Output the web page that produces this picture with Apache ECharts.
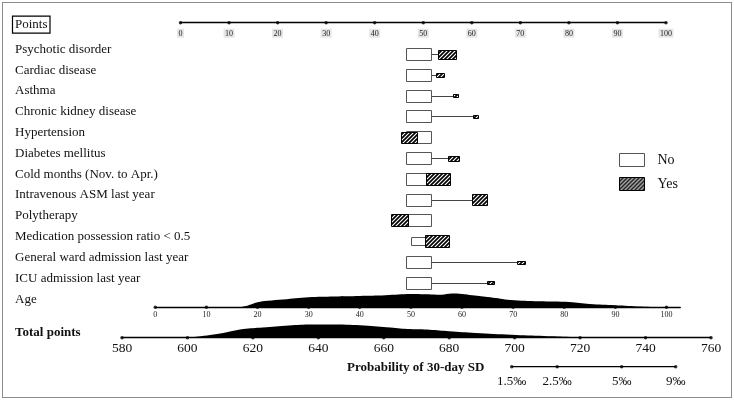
<!DOCTYPE html>
<html><head><meta charset="utf-8">
<script src="https://cdn.jsdelivr.net/npm/echarts@6/dist/echarts.min.js"></script>
<style>
html,body{margin:0;padding:0;background:#fff}
#c{width:734px;height:400px;position:absolute;left:0;top:0}
#frame{position:absolute;left:2px;top:2px;width:728px;height:394px;border:1px solid #8c8c8c;pointer-events:none}
</style>
</head><body><div id="c"></div><div id="frame"></div>
<script>
// ---------- data ----------
const rowLabels = ['Psychotic disorder','Cardiac disease','Asthma','Chronic kidney disease','Hypertension','Diabetes mellitus','Cold months (Nov. to Apr.)','Intravenous ASM last year','Polytherapy','Medication possession ratio < 0.5','General ward admission last year','ICU admission last year'];
const pointTicks = [0,10,20,30,40,50,60,70,80,90,100];
// [low points, high points, relative size]
const noBoxes = [[46.4,51.6,1],[46.4,51.6,1],[46.4,51.6,1],[46.4,51.6,1],[46.5,51.6,1],[46.4,51.6,1],[46.4,51.6,1],[46.4,51.6,1],[46.5,51.6,1],[47.4,50.5,0.63],[46.4,51.6,1],[46.5,51.6,1]];
const yesBoxes = [[53.1,56.9,0.73],[52.6,54.3,0.33],[56.1,57.1,0.22],[60.3,61.4,0.22],[45.4,48.7,0.87],[55.2,57.4,0.41],[50.5,55.4,1],[60.1,63.1,0.87],[43.3,46.9,1],[50.4,55.4,0.98],[69.4,71.0,0.24],[63.2,64.6,0.27]];
const ageTicks = [0,10,20,30,40,50,60,70,80,90,100];
const ageMax = 102.7;
const ageDensity = [[16.5,0],[18,1.5],[20,5],[22,6.5],[25,7.8],[30,10],[35,10.8],[40,11.3],[45,12],[50,13.2],[54,12.8],[56,12.6],[58,13.8],[60,13.3],[62,12],[65.5,10],[69.5,7.3],[75,6],[81,5.3],[85,3.3],[90,2],[95,0.7],[99,0]];
const totalTicks = [580,600,620,640,660,680,700,720,740,760];
const totalDensity = [[600,0],[604,1.5],[608,3.3],[612,5.5],[617,8.7],[623,10.3],[631,12.3],[638,13.3],[645,13.3],[654,12.3],[662,10.3],[668,8.6],[674,8],[680,6.5],[688,4.8],[699,3],[709,1.7],[717,0.7],[721,0]];
const probLabels = ['1.5‰','2.5‰','5‰','9‰'];
const probTicksTotal = [699.1,713.0,732.7,749.2];

// ---------- styles ----------
const FONT = "'Liberation Serif','Times New Roman',serif";
const BOX_FRAC = 0.59;
function makeHatch(){
  const c=document.createElement('canvas'); c.width=4; c.height=4;
  const g=c.getContext('2d'); g.fillStyle='#fff'; g.fillRect(0,0,4,4);
  g.strokeStyle='#000'; g.lineWidth=1.7; g.beginPath();
  g.moveTo(0,4); g.lineTo(4,0); g.moveTo(-1,1); g.lineTo(1,-1); g.moveTo(3,5); g.lineTo(5,3);
  g.stroke(); return c;
}
const hatch = {image: makeHatch(), repeat: 'repeat'};
const noStyle = {fill:'#fff', stroke:'#555', lineWidth:1};
const yesStyle = {fill:hatch, stroke:'#000', lineWidth:1};

function boxData(arr){ return arr.map((b,i)=>[i,b[0],b[1],b[2]]); }
function boxRenderer(style){
  return function(params, api){
    const row=api.value(0), lo=api.value(1), hi=api.value(2), s=api.value(3);
    const p0=api.coord([lo,row]), p1=api.coord([hi,row]);
    const band=api.size([0,1])[1];
    const h=Math.round(s*band*BOX_FRAC);
    const x=Math.round(p0[0])+0.5, w=Math.round(p1[0]-p0[0]);
    const y=Math.round(p0[1]-h/2)+0.5;
    return {type:'rect', shape:{x:x,y:y,width:w,height:h}, style:style};
  };
}
const connData = noBoxes.map((b,i)=>[i,(b[0]+b[1])/2,(yesBoxes[i][0]+yesBoxes[i][1])/2]);
function connRender(params, api){
  const row=api.value(0);
  const a=api.coord([api.value(1),row]), b=api.coord([api.value(2),row]);
  const y=Math.round(a[1])+0.5;
  return {type:'line', shape:{x1:a[0],y1:y,x2:b[0],y2:y}, style:{stroke:'#444',lineWidth:1}};
}
const dotSeries = (xi, vals) => ({type:'scatter', xAxisIndex:xi, yAxisIndex:xi, data:vals.map(v=>[v,0]), symbolSize:3.5, itemStyle:{color:'#000'}, silent:true, z:5, clip:false});
const baseLine = {lineStyle:{color:'#000',width:1.3}};

const chart = echarts.init(document.getElementById('c'), null, {renderer:'canvas'});
chart.setOption({
  animation:false,
  backgroundColor:'#fff',
  textStyle:{fontFamily:FONT},
  title:{text:'Probability of 30-day SD', left:347, top:361, padding:0,
    textStyle:{fontFamily:FONT,fontSize:13,fontWeight:'bold',color:'#111'}},
  legend:{orient:'vertical', left:619, top:153, padding:0, itemWidth:25, itemHeight:13, itemGap:10, icon:'rect', selectedMode:false,
    textStyle:{fontFamily:FONT,fontSize:14,color:'#111',lineHeight:13,padding:[0,0,0,8]},
    data:[{name:'No', itemStyle:{color:'#fff',borderColor:'#555',borderWidth:1}},
          {name:'Yes', itemStyle:{color:hatch,borderColor:'#000',borderWidth:1}}]},
  grid:[
    {left:180.5, width:485.5, top:10, height:12.7, outerBoundsMode:'none'},
    {left:180.5, width:485.5, top:43.6, height:249.6, outerBoundsMode:'none'},
    {left:155.3, width:525, top:292.3, height:15, outerBoundsMode:'none'},
    {left:122, width:589, top:322.7, height:15, outerBoundsMode:'none'},
    {left:122, width:589, top:356.7, height:10, outerBoundsMode:'none'}
  ],
  xAxis:[
    {gridIndex:0, type:'value', min:0, max:100, interval:10, axisLine:baseLine, axisTick:{show:false}, splitLine:{show:false},
     axisLabel:{fontFamily:FONT,fontSize:8,color:'#222',backgroundColor:'#e6e6e6',padding:[1,1.5,0,1.5],margin:6}},
    {gridIndex:1, type:'value', min:0, max:100, show:false},
    {gridIndex:2, type:'value', min:0, max:ageMax, axisLine:baseLine, axisTick:{show:false}, splitLine:{show:false},
     axisLabel:{customValues:ageTicks, fontFamily:FONT,fontSize:8,color:'#222',margin:4},
     name:'Age', nameLocation:'start', nameGap:140.3,
     nameTextStyle:{fontFamily:FONT,fontSize:13,color:'#111',align:'left',verticalAlign:'bottom',lineHeight:16}},
    {gridIndex:3, type:'value', min:580, max:760, interval:20, axisLine:baseLine, axisTick:{show:false}, splitLine:{show:false},
     axisLabel:{fontFamily:FONT,fontSize:13.5,color:'#111',margin:4},
     name:'Total points', nameLocation:'start', nameGap:107,
     nameTextStyle:{fontFamily:FONT,fontSize:13,fontWeight:'bold',color:'#111',align:'left',verticalAlign:'bottom',lineHeight:10}},
    {gridIndex:4, type:'value', min:580, max:760, axisLine:{show:false}, axisTick:{show:false}, splitLine:{show:false},
     axisLabel:{customValues:probTicksTotal, fontFamily:FONT,fontSize:13,color:'#111',margin:8,
       formatter:function(v){let k=0,d=1e9;probTicksTotal.forEach((t,i)=>{if(Math.abs(t-v)<d){d=Math.abs(t-v);k=i;}});return probLabels[k];}}},
    {gridIndex:0, type:'value', min:0, max:100, position:'bottom', offset:2, axisLine:{show:false,onZero:false}, axisTick:{show:false}, axisLabel:{show:false}, splitLine:{show:false},
     name:'Points', nameLocation:'start', nameGap:130.5,
     nameTextStyle:{fontFamily:FONT,fontSize:13,color:'#111',borderColor:'#000',borderWidth:1.2,padding:[2,2.5,1,2.5],align:'right',verticalAlign:'middle',lineHeight:14}}
  ],
  yAxis:[
    {gridIndex:0, type:'value', min:0, max:1, show:false},
    {gridIndex:1, type:'category', data:rowLabels, inverse:true, axisLine:{show:false}, axisTick:{show:false}, splitLine:{show:false},
     axisLabel:{align:'left', margin:165.5, interval:0, fontFamily:FONT, fontSize:13, color:'#111', verticalAlign:'bottom', lineHeight:9.4}},
    {gridIndex:2, type:'value', min:0, max:15, show:false},
    {gridIndex:3, type:'value', min:0, max:15, show:false},
    {gridIndex:4, type:'value', min:0, max:1, show:false}
  ],
  series:[
    dotSeries(0, pointTicks),
    {type:'custom', name:'conn', xAxisIndex:1, yAxisIndex:1, data:connData, renderItem:connRender, silent:true, encode:{x:[1,2],y:0}},
    {type:'custom', name:'No', xAxisIndex:1, yAxisIndex:1, data:boxData(noBoxes), renderItem:boxRenderer(noStyle), encode:{x:[1,2],y:0},
     itemStyle:{color:'#fff',borderColor:'#555',borderWidth:1}},
    {type:'custom', name:'Yes', xAxisIndex:1, yAxisIndex:1, data:boxData(yesBoxes), renderItem:boxRenderer(yesStyle), encode:{x:[1,2],y:0},
     itemStyle:{color:hatch,borderColor:'#000',borderWidth:1}},
    {type:'line', xAxisIndex:2, yAxisIndex:2, data:ageDensity, smooth:0.4, symbol:'none', lineStyle:{width:0}, areaStyle:{color:'#000',opacity:1}, silent:true},
    dotSeries(2, ageTicks),
    {type:'line', xAxisIndex:3, yAxisIndex:3, data:totalDensity, smooth:0.4, symbol:'none', lineStyle:{width:0}, areaStyle:{color:'#000',opacity:1}, silent:true},
    dotSeries(3, totalTicks),
    {type:'line', xAxisIndex:4, yAxisIndex:4, data:[[probTicksTotal[0],0],[probTicksTotal[probTicksTotal.length-1],0]], symbol:'none', lineStyle:{color:'#000',width:1.3}, silent:true, clip:false},
    dotSeries(4, probTicksTotal)
  ]
});
</script>
</body></html>
